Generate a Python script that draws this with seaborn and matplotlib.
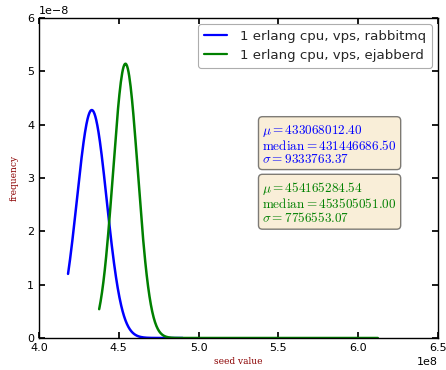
import numpy as np
import pandas as pd
import matplotlib
matplotlib.use("Agg")
import matplotlib.pyplot as plt
import seaborn as sns

# Fitted normal distributions of seed values for each run
series = ["1 erlang cpu, vps, rabbitmq", "1 erlang cpu, vps, ejabberd"]
means = [433068012.40, 454165284.54]
medians = [431446686.50, 453505051.00]
sigmas = [9333763.37, 7756553.07]
# observed range of seed values per run
x_min = [418200000.0, 437700000.0]
x_max = [490000000.0, 612300000.0]
colors = ["#0000ff", "#008000"]

sns.set_theme(style="white")
plt.rcParams.update({
    "font.family": ["DejaVu Sans"],
    "mathtext.fontset": "cm",
    "xtick.direction": "in",
    "ytick.direction": "in",
    "xtick.top": True,
    "ytick.right": True,
    "xtick.bottom": True,
    "ytick.left": True,
    "xtick.major.size": 4,
    "ytick.major.size": 4,
    "axes.edgecolor": "black",
    "axes.linewidth": 1.0,
})

frames = []
for name, mu, sd, lo, hi in zip(series, means, sigmas, x_min, x_max):
    x = np.linspace(lo, hi, 400)
    pdf = np.exp(-0.5 * ((x - mu) / sd) ** 2) / (sd * np.sqrt(2 * np.pi))
    frames.append(pd.DataFrame({"seed": x, "pdf": pdf, "run": name}))
df = pd.concat(frames, ignore_index=True)

fig = plt.figure(figsize=(4.46, 3.70), dpi=100)
ax = fig.add_axes([39 / 446, 1 - 338 / 370, 399 / 446, 320 / 370])

sns.lineplot(data=df, x="seed", y="pdf", hue="run", palette=colors,
             linewidth=1.8, ax=ax, sort=False)

ax.set_xlim(4.0e8, 6.5e8)
ax.set_ylim(0, 6e-8)
ax.set_xticks(np.arange(4.0e8, 6.51e8, 0.5e8))
ax.set_yticks(np.arange(0, 6.01e-8, 1e-8))
ax.tick_params(labelsize=8, pad=3.5, colors="black")
ax.xaxis.get_offset_text().set_fontsize(8)
ax.yaxis.get_offset_text().set_fontsize(8)

label_font = {"family": "DejaVu Serif", "color": "darkred", "size": 6.5}
ax.set_xlabel("seed value", fontdict=label_font, labelpad=3)
ax.set_ylabel("frequency", fontdict=label_font, labelpad=6)

leg = ax.legend(loc="upper right", fontsize=9.6, frameon=True, fancybox=True,
                handlelength=1.7, handletextpad=1.0, borderpad=0.45,
                labelspacing=0.45, borderaxespad=0.45)
leg.get_frame().set_edgecolor("#999999")
leg.get_frame().set_linewidth(0.8)
for line in leg.get_lines():
    line.set_linewidth(1.6)

box_y = [0.673, 0.493]
for mu, med, sd, c, yb in zip(means, medians, sigmas, colors, box_y):
    txt = (r"$\mu=%.2f$" % mu + "\n" + r"$\mathrm{median}=%.2f$" % med
           + "\n" + r"$\sigma=%.2f$" % sd)
    ax.text(0.56, yb, txt, transform=ax.transAxes, fontsize=9.5, color=c,
            va="top", ha="left", linespacing=1.0,
            bbox=dict(boxstyle="round", facecolor="wheat", alpha=0.5,
                      edgecolor="black"))

fig.savefig("out.png", dpi=100)
